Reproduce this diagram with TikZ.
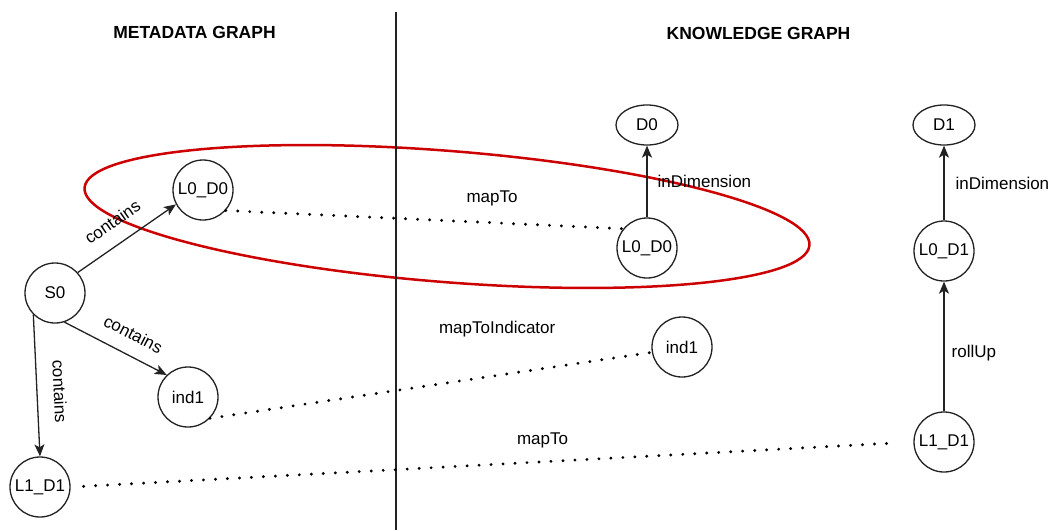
\documentclass[tikz,border=0pt]{standalone}
\usepackage{fontspec}
\setmainfont{Liberation Sans}
\usepackage{tikz}
\usetikzlibrary{arrows.meta, shapes.geometric}
\definecolor{ringred}{HTML}{CC0000}
\definecolor{strokegray}{HTML}{222222}

\begin{document}
\begin{tikzpicture}[x=1pt, y=-1pt,
            every node/.style={font=\fontsize{17}{20}\selectfont},
            vtx/.style={draw=strokegray, fill=white, circle, line width=1.3pt, minimum size=60pt, inner sep=0pt},
            dimvtx/.style={vtx, ellipse, minimum width=62pt, minimum height=40pt},
            rel/.style={draw=strokegray, line width=1.3pt, -{Stealth[length=12pt, width=10pt, inset=3pt]}},
            link/.style={draw=black, line width=3.2pt, line cap=round, dash pattern=on 0pt off 12pt},
            lbl/.style={inner sep=2pt},
            heading/.style={font=\bfseries\fontsize{17.5}{20}\selectfont}]
            \useasboundingbox (0,0) rectangle (1054,530);
            \draw[ringred, line width=2.5pt, rotate around={-4.54:(447,216.5)}] (447,216.5) ellipse [x radius=363.6, y radius=65.6];
            \draw[strokegray, line width=1.3pt] (396,12) -- (396,530);
            \node[heading] (mdtitle) at (194.5,32) {METADATA GRAPH};
            \node[heading] (kgtitle) at (758.5,33) {KNOWLEDGE GRAPH};
            \node[vtx] (S0) at (55,293) {S0};
            \node[vtx] (L0D0a) at (203,190) {L0\_D0};
            \node[vtx] (ind1a) at (188,397) {ind1};
            \node[vtx] (L1D1a) at (40,487) {L1\_D1};
            \node[dimvtx] (D0) at (647,125) {D0};
            \node[vtx] (L0D0b) at (647,248) {L0\_D0};
            \node[vtx] (ind1b) at (682,347) {ind1};
            \node[dimvtx] (D1) at (944,125) {D1};
            \node[vtx] (L0D1) at (944,251) {L0\_D1};
            \node[vtx] (L1D1b) at (944,442) {L1\_D1};
            \draw[rel] (S0.42) -- node[lbl, sloped, above=13pt, pos=0.48] {contains} (L0D0a.208);
            \draw[rel] (S0.-72) -- node[lbl, sloped, above=12pt, pos=0.58] {contains} (ind1a.134);
            \draw[rel] (S0.225) -- node[lbl, sloped, above=14pt, pos=0.55] {contains} (L1D1a.north);
            \draw[link] (L0D0a.-42) -- node[lbl, above=13pt, pos=0.67] {mapTo} (L0D0b.141);
            \draw[link] (ind1a.-44) -- node[lbl, above=35pt, pos=0.65] {mapToIndicator} (ind1b.190);
            \draw[link, shorten <=13pt, shorten >=20pt] (L1D1a.east) -- node[lbl, above=10pt, pos=0.56] {mapTo} (L1D1b.west);
            \draw[rel] (L0D0b) -- node[lbl, right=8pt] {inDimension} (D0);
            \draw[rel] (L0D1) -- node[lbl, right=9pt] {inDimension} (D1);
            \draw[rel] (L1D1b) -- node[lbl, right=5pt, pos=0.45] {rollUp} (L0D1);
\end{tikzpicture}
\end{document}
